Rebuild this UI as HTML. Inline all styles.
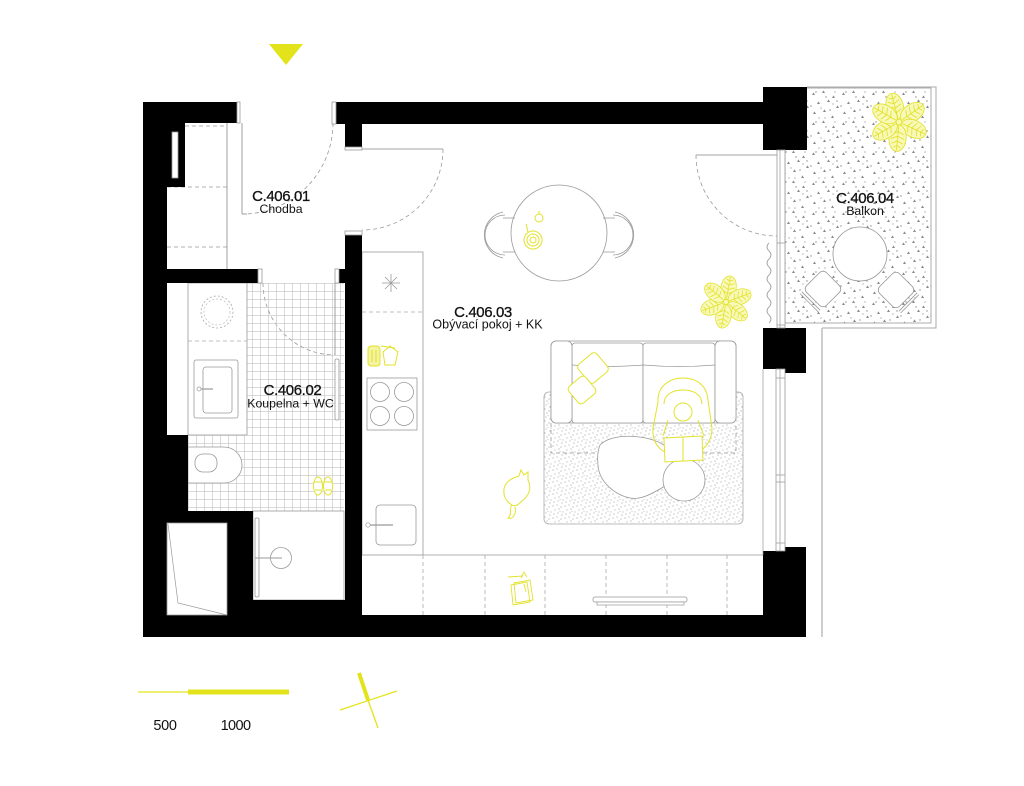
<!DOCTYPE html>
<html><head><meta charset="utf-8"><style>
html,body{margin:0;padding:0;background:#fff;}
svg{display:block;}
text{font-family:"Liberation Sans",Arial,sans-serif;fill:#111;}
</style></head><body>
<svg width="1024" height="786" viewBox="0 0 1024 786" xmlns="http://www.w3.org/2000/svg">
<defs>
<pattern id="tile" width="8" height="8" patternUnits="userSpaceOnUse" x="188" y="283">
<path d="M0 0.3H8M0.3 0V8" stroke="#c2c2c2" stroke-width="0.6" fill="none"/>
</pattern>
<pattern id="speck" width="30" height="30" patternUnits="userSpaceOnUse">
<g fill="#8a8a8a">
<path d="M2 5l3 0l-1.5 -2.6z"/><path d="M12 3l3 0l-1.5 -2.6z"/><path d="M22 8l3 0l-1.5 -2.6z"/>
<path d="M7 14l3 0l-1.5 -2.6z"/><path d="M17 12l3 0l-1.5 -2.6z"/><path d="M26 18l3 0l-1.5 -2.6z"/>
<path d="M3 24l3 0l-1.5 -2.6z"/><path d="M13 22l3 0l-1.5 -2.6z"/><path d="M21 28l3 0l-1.5 -2.6z"/>
<circle cx="6" cy="2" r="0.7"/><circle cx="16" cy="7" r="0.7"/><circle cx="25" cy="2" r="0.6"/>
<circle cx="1" cy="16" r="0.7"/><circle cx="11" cy="18" r="0.6"/><circle cx="20" cy="20" r="0.7"/>
<circle cx="9" cy="28" r="0.6"/><circle cx="27" cy="11" r="0.7"/><circle cx="15" cy="28" r="0.6"/><circle cx="23" cy="14" r="0.6"/>
</g>
</pattern>
<pattern id="rug" width="12" height="12" patternUnits="userSpaceOnUse">
<g fill="#7a7a7a">
<circle cx="1" cy="2" r="0.5"/><circle cx="5" cy="1" r="0.45"/><circle cx="9" cy="3" r="0.5"/>
<circle cx="3" cy="6" r="0.45"/><circle cx="7" cy="5" r="0.5"/><circle cx="11" cy="8" r="0.45"/>
<circle cx="2" cy="10" r="0.5"/><circle cx="6" cy="9" r="0.45"/><circle cx="10" cy="11" r="0.5"/>
<circle cx="8" cy="7.5" r="0.4"/>
</g>
</pattern>
<g id="leaf">
<ellipse cx="17" cy="0" rx="14" ry="9"/>
<path d="M4 0H30M10 0l3 -6M15 0l3 -7M20 0l3 -6M25 0l2 -4M10 0l3 6M15 0l3 7M20 0l3 6M25 0l2 4" fill="none"/>
</g>
</defs>

<!-- balcony -->
<rect x="785" y="88" width="146" height="235" fill="url(#speck)" stroke="#999" stroke-width="0.8"/>
<path d="M807 87H936V328H822" fill="none" stroke="#aaa" stroke-width="1"/>
<line x1="822" y1="328" x2="822" y2="637" stroke="#c8c8c8" stroke-width="1.8"/>

<!-- corridor -->
<g fill="none" stroke="#888" stroke-width="0.8">
<line x1="227" y1="123" x2="227" y2="269"/>
<line x1="242" y1="123" x2="242" y2="214"/><line x1="242" y1="214" x2="247" y2="214"/>
</g>
<g fill="none" stroke="#999" stroke-width="0.8" stroke-dasharray="4 3">
<line x1="185" y1="126" x2="227" y2="126"/>
<line x1="167" y1="187" x2="227" y2="187"/>
<line x1="167" y1="247" x2="227" y2="247"/>
<path d="M333 123A91 91 0 0 1 242 214"/>
<path d="M443 149A81 81 0 0 1 362 230"/>
<path d="M263 283A72 72 0 0 0 335 355"/>
<path d="M696 155A81 81 0 0 0 777 236"/>
</g>
<g stroke="#888" stroke-width="0.8">
<line x1="362" y1="149" x2="443" y2="149"/>
<line x1="696" y1="155" x2="777" y2="155"/>
</g>

<!-- bathroom -->
<rect x="188" y="283" width="156" height="228" fill="url(#tile)"/>
<line x1="335" y1="283" x2="335" y2="355" stroke="#888" stroke-width="0.8"/>
<rect x="335" y="359" width="4" height="61" rx="1.5" fill="#fff" stroke="#999" stroke-width="0.8"/>
<rect x="188" y="283" width="59" height="152" fill="#fff" stroke="#999" stroke-width="0.8"/>
<line x1="188" y1="341" x2="247" y2="341" stroke="#aaa" stroke-width="0.8" stroke-dasharray="4 3"/>
<circle cx="217" cy="312" r="16" fill="none" stroke="#aaa" stroke-width="0.8" stroke-dasharray="2 2"/>
<circle cx="217" cy="312" r="13" fill="none" stroke="#bbb" stroke-width="0.7" stroke-dasharray="2 2"/>
<rect x="194" y="360" width="44" height="58" rx="2" fill="#fff" stroke="#999" stroke-width="0.8"/>
<rect x="203" y="367" width="29" height="46" rx="3" fill="#fff" stroke="#999" stroke-width="0.8"/>
<line x1="199" y1="389" x2="213" y2="389" stroke="#999" stroke-width="1.2"/>
<circle cx="199" cy="389" r="2" fill="#fff" stroke="#999" stroke-width="0.7"/>
<path d="M188 447H224A18 18 0 0 1 224 483H188Z" fill="#fff" stroke="#999" stroke-width="0.8"/>
<rect x="195" y="454" width="22" height="18" rx="8" fill="#fff" stroke="#999" stroke-width="0.8"/>
<g fill="#fff" stroke="#e2e22a" stroke-width="0.9">
<ellipse cx="318" cy="486" rx="4.5" ry="9"/><ellipse cx="328" cy="486" rx="4.5" ry="9"/>
<path d="M314 482h8M324 482h8M315 490h6M325 490h6"/>
</g>
<rect x="253" y="511" width="91" height="89" fill="#fff" stroke="#999" stroke-width="0.8"/>
<rect x="255" y="518" width="4" height="79" rx="1.5" fill="#fff" stroke="#999" stroke-width="0.8"/>
<line x1="255" y1="558" x2="282" y2="558" stroke="#999" stroke-width="0.9"/>
<circle cx="281" cy="558" r="10.5" fill="none" stroke="#999" stroke-width="0.8"/>

<!-- kitchen -->
<rect x="362" y="252" width="61" height="303" fill="#fff" stroke="#999" stroke-width="0.8"/>
<line x1="362" y1="312" x2="423" y2="312" stroke="#aaa" stroke-width="0.8" stroke-dasharray="4 3"/>
<g stroke="#999" stroke-width="0.8">
<line x1="382" y1="283" x2="400" y2="283"/><line x1="391" y1="274" x2="391" y2="292"/>
<line x1="385" y1="277" x2="397" y2="289"/><line x1="397" y1="277" x2="385" y2="289"/>
</g>
<g fill="#f3f3a0" stroke="#e2e22a" stroke-width="1">
<rect x="368" y="346" width="12" height="20" rx="3"/>
<path d="M372 350v12M376 350v12" fill="none"/>
<path d="M383 352l7 -6l8 6l-3 13l-10 0z" fill="#fff"/>
<path d="M381 346l14 2" fill="none"/>
</g>
<rect x="367" y="378" width="50" height="52" fill="#fff" stroke="#999" stroke-width="0.8"/>
<g fill="none" stroke="#999" stroke-width="0.8">
<circle cx="380" cy="392" r="9.5"/><circle cx="404" cy="392" r="9.5"/>
<circle cx="380" cy="416" r="9.5"/><circle cx="404" cy="416" r="9.5"/>
</g>
<rect x="376" y="505" width="40" height="40" rx="4" fill="#fff" stroke="#999" stroke-width="0.8"/>
<line x1="368" y1="525" x2="393" y2="525" stroke="#999" stroke-width="1.2"/>
<circle cx="368" cy="525" r="2.2" fill="#fff" stroke="#999" stroke-width="0.7"/>

<!-- bottom wardrobe -->
<line x1="423" y1="555" x2="766" y2="555" stroke="#999" stroke-width="0.8"/>
<line x1="362" y1="555" x2="423" y2="555" stroke="#aaa" stroke-width="0.8" stroke-dasharray="4 3"/>
<g stroke="#aaa" stroke-width="0.8" stroke-dasharray="4 3">
<line x1="423" y1="555" x2="423" y2="615"/><line x1="485" y1="555" x2="485" y2="615"/>
<line x1="545" y1="555" x2="545" y2="615"/><line x1="606" y1="555" x2="606" y2="615"/>
<line x1="667" y1="555" x2="667" y2="615"/><line x1="727" y1="555" x2="727" y2="615"/>
</g>
<rect x="593" y="597" width="94" height="5" rx="2" fill="#fff" stroke="#999" stroke-width="0.8"/>
<rect x="597" y="602" width="87" height="3" fill="#fff" stroke="#999" stroke-width="0.7"/>
<g fill="#fff" stroke="#e2e22a" stroke-width="0.9">
<path d="M514 583L530 580L533 600L516 603Z"/>
<path d="M511 585L527 582L530 602L513 605Z" fill="none"/>
<path d="M508 577L523 576M521 578l3 -6l3 5M524 584l2 8" fill="none"/>
</g>

<!-- dining table -->
<circle cx="559" cy="233" r="48" fill="#fff" stroke="#999" stroke-width="0.8"/>
<g fill="none" stroke="#999" stroke-width="0.8">
<path d="M503 212A23.5 23.5 0 0 0 503 258"/>
<path d="M505 215A20 20 0 0 0 505 255"/>
<path d="M503 218H515M503 252H515"/>
<path d="M615 212A23.5 23.5 0 0 1 615 258"/>
<path d="M613 215A20 20 0 0 1 613 255"/>
<path d="M615 218H603M615 252H603"/>
</g>
<g fill="none" stroke="#e2e22a" stroke-width="1">
<circle cx="533" cy="240" r="9"/><circle cx="533" cy="240" r="6"/><circle cx="533" cy="240" r="3"/>
<path d="M528 232l-2 -8"/>
<circle cx="539" cy="218" r="4"/><path d="M539 214v-3"/>
</g>

<!-- rug & sofa -->
<rect x="544" y="392" width="199" height="132" rx="5" fill="url(#rug)" stroke="#aaa" stroke-width="0.8"/>
<g fill="none" stroke="#999" stroke-width="0.8" stroke-dasharray="4 3">
<path d="M551 423V453H598M703 453H736V423"/>
</g>
<g fill="#fff" stroke="#999" stroke-width="0.8">
<rect x="551" y="341" width="185" height="82" rx="5"/>
<rect x="572" y="343" width="71" height="80" rx="3"/>
<rect x="643" y="343" width="72" height="80" rx="3"/>
<path d="M572 365Q607 368 643 365Q679 368 715 365" fill="none"/>
<rect x="551" y="341" width="21" height="82" rx="5"/>
<rect x="715" y="341" width="21" height="82" rx="5"/>
<path d="M600 445C612 432 652 434 668 448C680 460 678 478 665 486C650 495 640 500 630 498C615 495 599 482 598 465C597 456 598 450 600 445Z"/>
<circle cx="684" cy="480" r="21"/>
</g>
<g fill="#fff" stroke="#e2e22a" stroke-width="1">
<rect x="-12" y="-12" width="24" height="24" rx="4" transform="translate(593,368) rotate(-40)"/>
<rect x="-11" y="-11" width="22" height="22" rx="4" transform="translate(582,390) rotate(-40)"/>
<path d="M658 402C657 386 670 378 683 378C697 378 707 386 708 400L712 428C712 440 706 447 701 450L665 452C657 448 652 440 653 428Z" fill="none"/>
<path d="M664 404C664 395 672 390 683 390C694 390 702 395 702 404" fill="none"/>
<circle cx="683" cy="412" r="9"/>
<path d="M668 420L663 436M698 420L704 436" fill="none"/>
<path d="M664 438L683 437L702 436L703 460L683 461L665 462Z"/>
<path d="M683 437V461" fill="none"/>
</g>
<!-- cat -->
<g fill="#fff" stroke="#e2e22a" stroke-width="1">
<path d="M519 476L521 470L524 475L528 472L528 480C532 488 529 496 522 501C518 505 515 507 512 505C507 502 503 497 504 489C505 482 512 478 519 476Z"/>
<path d="M512 505C508 510 513 514 508 518C512 520 517 514 515 507" fill="none"/>
</g>

<!-- plants -->
<g fill="#f8f8b8" stroke="#e2e22a" stroke-width="0.9">
<g transform="translate(899,122) scale(0.95)">
<use href="#leaf" transform="rotate(-105)"/><use href="#leaf" transform="rotate(-35)"/>
<use href="#leaf" transform="rotate(25)"/><use href="#leaf" transform="rotate(95)"/>
<use href="#leaf" transform="rotate(150)"/><use href="#leaf" transform="rotate(210)"/>
<circle r="3"/>
</g>
<g transform="translate(726,302) scale(0.85)">
<use href="#leaf" transform="rotate(-80)"/><use href="#leaf" transform="rotate(-20)"/>
<use href="#leaf" transform="rotate(40)"/><use href="#leaf" transform="rotate(100)"/>
<use href="#leaf" transform="rotate(160)"/><use href="#leaf" transform="rotate(220)"/>
<circle r="3"/>
</g>
</g>

<!-- balcony furniture -->
<circle cx="860" cy="254" r="27" fill="#fff" stroke="#999" stroke-width="0.8"/>
<g fill="#fff" stroke="#999" stroke-width="0.8">
<g transform="translate(823,289) rotate(45)">
<rect x="-14" y="-14" width="28" height="28" rx="5"/>
<path d="M-13 17H13M-13 19.5H13" fill="none"/>
</g>
<g transform="translate(896,290) rotate(45)">
<rect x="-14" y="-14" width="28" height="28" rx="5"/>
<path d="M17 -13V13M19.5 -13V13" fill="none"/>
</g>
</g>
<path d="M769 243q-4 4 0 8t0 8t0 8t0 8t0 8t0 8t0 8t0 8t0 8t0 8" fill="none" stroke="#999" stroke-width="0.8"/>

<!-- walls -->
<g fill="#000">
<rect x="143" y="102" width="94" height="21"/>
<rect x="143" y="102" width="24" height="535"/>
<rect x="167" y="123" width="18" height="64"/>
<rect x="336" y="102" width="427" height="22"/>
<rect x="345" y="124" width="17" height="23"/>
<rect x="763" y="87" width="44" height="63"/>
<rect x="763" y="328" width="43" height="41"/>
<rect x="785" y="369" width="21" height="4"/>
<rect x="763" y="551" width="43" height="86"/>
<rect x="785" y="547" width="21" height="4"/>
<rect x="143" y="615" width="663" height="22"/>
<rect x="143" y="269" width="115" height="14"/>
<rect x="339" y="269" width="23" height="14"/>
<rect x="345" y="235" width="17" height="380"/>
<rect x="167" y="435" width="21" height="88"/>
<rect x="167" y="511" width="86" height="12"/>
<rect x="227" y="511" width="26" height="126"/>
<rect x="253" y="600" width="92" height="37"/>
</g>
<g fill="#fff" stroke="#999" stroke-width="0.8">
<rect x="172" y="132" width="6" height="46"/>
<rect x="237" y="102" width="3" height="21"/>
<rect x="332" y="102" width="4" height="22"/>
<rect x="345" y="147" width="17" height="3"/>
<rect x="345" y="231" width="17" height="4"/>
<rect x="258" y="269" width="4" height="14"/>
<rect x="335" y="269" width="4" height="14"/>
<rect x="167" y="523" width="60" height="92"/>
<rect x="777" y="150" width="8" height="178"/>
<rect x="776" y="369" width="9" height="182"/>
</g>
<g fill="none" stroke="#999" stroke-width="0.7">
<path d="M168 524L178 603L227 615"/>
<path d="M780 150V328M777 243H785M777 325H785"/>
<path d="M780 369V551M776 378H785M776 475H785M776 482H785M776 543H785"/>
<path d="M763 369V555"/>
</g>

<!-- labels -->
<g text-anchor="middle">
<text x="281" y="201" font-size="15" letter-spacing="-0.4" stroke="#111" stroke-width="0.3">C.406.01</text>
<text x="281" y="213" font-size="12.3">Chodba</text>
<text x="292.5" y="395" font-size="15" letter-spacing="-0.4" stroke="#111" stroke-width="0.3">C.406.02</text>
<text x="290.5" y="407.5" font-size="12.3">Koupelna + WC</text>
<text x="483" y="317" font-size="15" letter-spacing="-0.4" stroke="#111" stroke-width="0.3">C.406.03</text>
<text x="487.5" y="328.5" font-size="12.5">Obývací pokoj + KK</text>
<text x="865" y="203" font-size="15" letter-spacing="-0.4" stroke="#111" stroke-width="0.3">C.406.04</text>
<text x="865" y="215" font-size="12.3">Balkon</text>
<text x="165" y="730" font-size="14.5" letter-spacing="-0.3">500</text>
<text x="235.5" y="730" font-size="14.5" letter-spacing="-0.6">1000</text>
</g>

<!-- scale, north, entry -->
<line x1="138" y1="692" x2="188" y2="692" stroke="#e3e31b" stroke-width="1.3"/>
<rect x="188" y="689.5" width="101" height="5" fill="#e3e31b"/>
<line x1="359" y1="673" x2="368" y2="700" stroke="#e3e31b" stroke-width="4"/>
<line x1="368" y1="700" x2="378" y2="728" stroke="#e3e31b" stroke-width="1.3"/>
<line x1="340" y1="710" x2="397" y2="691" stroke="#e3e31b" stroke-width="1.3"/>
<polygon points="269,44 303,44 286,65" fill="#e3e31b"/>
</svg>
</body></html>
